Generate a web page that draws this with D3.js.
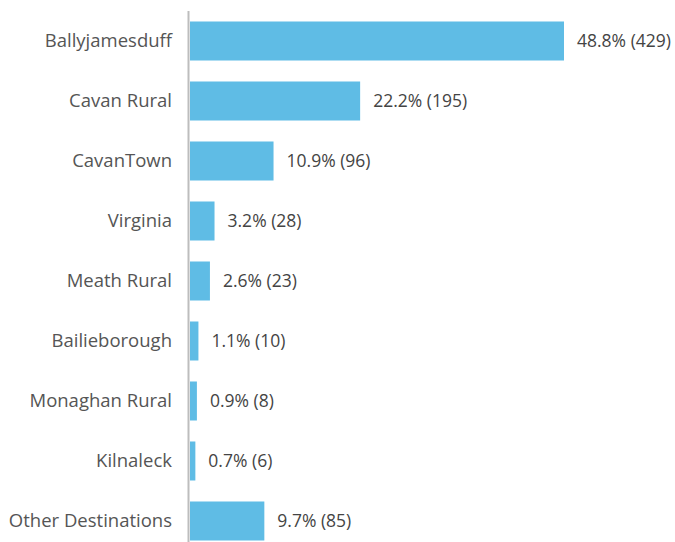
<!DOCTYPE html>
<meta charset="utf-8">
<style>
body{margin:0;background:#fff}
text{font-family:"Open Sans",sans-serif}
</style>
<body>
<svg></svg>
<script src="https://cdnjs.cloudflare.com/ajax/libs/d3/7.8.5/d3.min.js"></script>
<script>

var categories = ["Ballyjamesduff","Cavan Rural","CavanTown","Virginia","Meath Rural","Bailieborough","Monaghan Rural","Kilnaleck","Other Destinations"];
var percents = [48.8, 22.2, 10.9, 3.2, 2.6, 1.1, 0.9, 0.7, 9.7];
var counts = [429, 195, 96, 28, 23, 10, 8, 6, 85];

var width = 675, height = 542;
var margin = {top: 11, left: 190};

var svg = d3.select('svg')
	.attr("width", width)
	.attr("height", height);

var x = d3.scaleLinear()
	.domain([0, 48.8])
	.range([margin.left, 564]);

var y = d3.scaleBand()
	.domain(categories)
	.range([margin.top, margin.top + 60 * categories.length])
	.paddingInner(0.35)
	.paddingOuter(0.175);

var rows = categories.map((c,i) => ({name:c, pct:percents[i], n:counts[i]}));

svg.selectAll('.bar')
	.data(rows)
	.enter()
	.append('rect')
	.attr('class','bar')
	.attr('x', x(0))
	.attr('y', d => y(d.name))
	.attr('width', d => x(d.pct) - x(0))
	.attr('height', y.bandwidth())
	.attr('fill', '#5fbce5');

// axis line, no ticks
svg.append('line')
	.attr('x1', x(0) - 1.5).attr('x2', x(0) - 1.5)
	.attr('y1', 11).attr('y2', height)
	.attr('stroke', '#bdbdbd')
	.attr('stroke-width', 2);

svg.selectAll('.cat')
	.data(rows)
	.enter()
	.append('text')
	.attr('class','cat')
	.attr('x', 172)
	.attr('y', d => y(d.name) + y.bandwidth()/2)
	.attr('dy', '0.35em')
	.attr('text-anchor', 'end')
	.attr('fill', '#555')
	.style('font-size', '18.5px')
	.text(d => d.name);

svg.selectAll('.val')
	.data(rows)
	.enter()
	.append('text')
	.attr('class','val')
	.attr('x', d => x(d.pct) + 13)
	.attr('y', d => y(d.name) + y.bandwidth()/2)
	.attr('dy', '0.35em')
	.attr('fill', '#444')
	.style('font-size', '17.5px')
	.text(d => d.pct.toFixed(1) + "% (" + d.n + ")");
</script>
